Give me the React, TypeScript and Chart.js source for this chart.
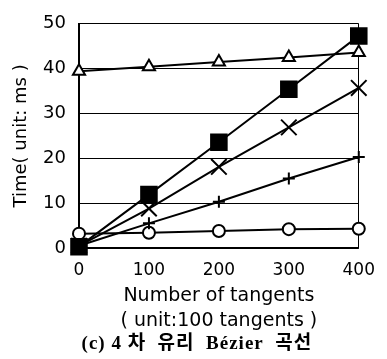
import React, { useEffect, useRef } from "react";
import { Chart, registerables } from "chart.js";

Chart.register(...registerables);

const xValues = [0, 100, 200, 300, 400];
const triangleSeries = [39.4, 40.4, 41.5, 42.5, 43.6];
const squareSeries = [0.3, 11.9, 23.6, 35.4, 47.3];
const crossSeries = [0.5, 8.8, 18.1, 26.9, 35.7];
const plusSeries = [0.5, 5.5, 10.3, 15.5, 20.3];
const circleSeries = [3.2, 3.4, 3.8, 4.2, 4.3];

const yTitle = "Time( unit: ms )";
const xTitle = ["Number of tangents", "( unit:100 tangents )"];
const caption = "(c) 4 차  유리  Bézier  곡선";

const toPoints = (vals: number[]) => vals.map((v, i) => ({ x: xValues[i], y: v }));

const captionPlugin = {
  id: "caption",
  afterDraw(chart: any) {
    const ctx = chart.ctx;
    const area = chart.chartArea;
    ctx.save();
    ctx.fillStyle = "#000";
    ctx.font = "bold 19px 'Liberation Serif', 'Noto Sans CJK KR', serif";
    try {
      (ctx as any).letterSpacing = "1px";
    } catch (e) {}
    ctx.textAlign = "center";
    ctx.textBaseline = "middle";
    const cx = (area.left + area.right) / 2 - 22;
    ctx.fillText(caption, cx, chart.height - 15);
    ctx.restore();
  },
};

export default function App() {
  const ref = useRef<HTMLCanvasElement | null>(null);
  useEffect(() => {
    if (!ref.current) return;
    const sans = "'DejaVu Sans', sans-serif";
    const base = {
      borderColor: "#000",
      borderWidth: 2,
      pointBorderColor: "#000",
      pointBorderWidth: 2,
      tension: 0,
      clip: false as any,
    };
    const chart = new Chart(ref.current, {
      type: "line",
      data: {
        datasets: [
          { ...base, label: "triangle", data: toPoints(triangleSeries), pointStyle: "triangle", pointRadius: 7, pointBackgroundColor: "#fff" },
          { ...base, label: "square", data: toPoints(squareSeries), pointStyle: "rect", pointRadius: 11, pointBackgroundColor: "#000" },
          { ...base, label: "cross", data: toPoints(crossSeries), pointStyle: "crossRot", pointRadius: 11, pointBackgroundColor: "#000" },
          { ...base, label: "plus", data: toPoints(plusSeries), pointStyle: "cross", pointRadius: 6, pointBackgroundColor: "#000" },
          { ...base, label: "circle", data: toPoints(circleSeries), pointStyle: "circle", pointRadius: 6, pointBackgroundColor: "#fff" },
        ] as any,
      },
      plugins: [captionPlugin],
      options: {
        responsive: false,
        animation: false,
        events: [],
        layout: { padding: { top: 13, right: 17, left: 0, bottom: 25 } },
        plugins: {
          legend: { display: false },
          tooltip: { enabled: false },
          title: { display: false },
        },
        scales: {
          x: {
            type: "linear",
            min: 0,
            max: 400,
            ticks: {
              stepSize: 100,
              color: "#000",
              padding: 12,
              font: { family: sans, size: 17 },
            },
            grid: {
              drawTicks: false,
              color: (c: any) => (c.tick && c.tick.value === 400 ? "#000" : "rgba(0,0,0,0)"),
              lineWidth: 1,
            },
            border: { display: true, color: "#000", width: 1.5 },
            title: {
              display: true,
              text: xTitle,
              color: "#000",
              font: { family: sans, size: 19, lineHeight: 25 / 19 },
              padding: { top: 0, bottom: 0 },
            },
            afterFit: (s: any) => {
              s.height = 86;
            },
          },
          y: {
            type: "linear",
            min: 0,
            max: 50,
            ticks: {
              stepSize: 10,
              color: "#000",
              padding: 13,
              font: { family: sans, size: 18 },
            },
            grid: { drawTicks: false, color: "#000", lineWidth: 1 },
            border: { display: true, color: "#000", width: 2 },
            title: {
              display: true,
              text: yTitle,
              color: "#000",
              font: { family: sans, size: 18, lineHeight: 1.2 },
              padding: { top: 11, bottom: 0 },
            },
            afterFit: (s: any) => {
              s.width = 79;
            },
          },
        },
      } as any,
    });
    return () => chart.destroy();
  }, []);
  return (
    <div style={{ position: "fixed", left: 0, top: 0, width: 387, height: 359, background: "#fff" }}>
      <canvas ref={ref} width={387} height={359} style={{ width: 387, height: 359 }} />
    </div>
  );
}
